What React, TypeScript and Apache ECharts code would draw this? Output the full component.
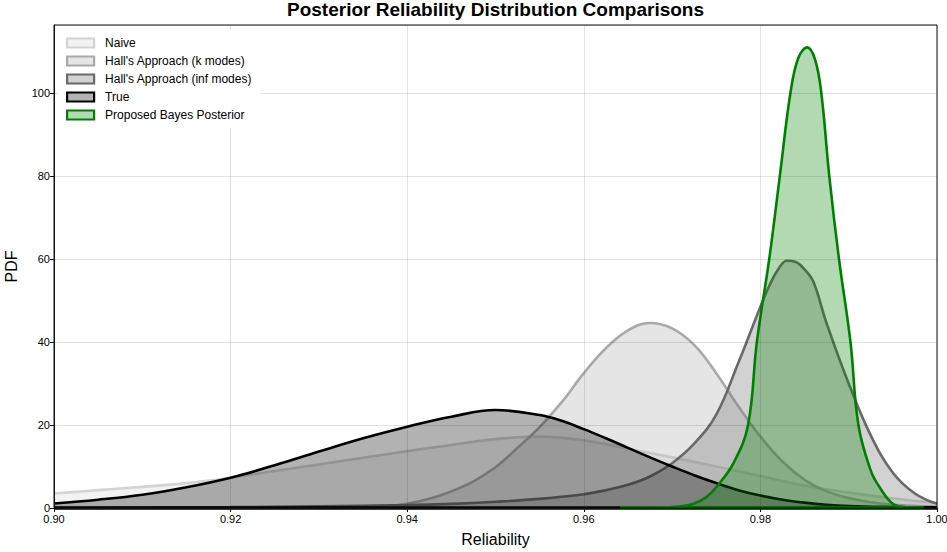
import React, { useEffect, useRef } from "react";
import * as echarts from "echarts";

const FONT = "'Liberation Sans', Arial, sans-serif";

const titleText = "Posterior Reliability Distribution Comparisons";
const seriesNames = [
  "Naive",
  "Hall's Approach (k modes)",
  "Hall's Approach (inf modes)",
  "True",
  "Proposed Bayes Posterior",
];
const seriesColors = ["#d3d3d3", "#a9a9a9", "#696969", "#000000", "#008000"];

const xTickMin = 0.9;
const xTickMax = 1.0;
const xTickStep = 0.02;
const yTickStep = 20;

// Naive
const naiveX = [0.9, 0.905, 0.91, 0.915, 0.92, 0.925, 0.93, 0.935, 0.94, 0.945, 0.95, 0.955, 0.96, 0.965, 0.97, 0.975, 0.98, 0.985, 0.99, 0.995, 1.0];
const naiveY = [3.5, 4.3, 5.1, 6.0, 7.3, 8.9, 10.5, 12.1, 13.7, 15.2, 16.6, 17.2, 16.3, 14.3, 12.2, 10.0, 7.7, 5.4, 3.7, 2.3, 1.2];

// Hall's Approach (k modes)
const hallKX = [0.9, 0.92, 0.93, 0.935, 0.9375, 0.94, 0.9425, 0.945, 0.9475, 0.95, 0.9525, 0.955, 0.9575, 0.96, 0.9625, 0.965, 0.9675, 0.97, 0.9725, 0.975, 0.9775, 0.98, 0.9825, 0.985, 0.9875, 0.99, 0.9925, 0.995, 1.0];
const hallKY = [0, 0, 0.03, 0.1, 0.4, 1.0, 2.2, 4.0, 6.4, 9.8, 14.5, 19.5, 25.5, 32.5, 38.5, 42.8, 44.6, 43.3, 39.3, 32.5, 24.5, 17.2, 11.2, 6.8, 4.0, 2.4, 1.4, 0.8, 0.3];

// Hall's Approach (inf modes)
const hallInfX = [0.9, 0.91, 0.92, 0.93, 0.94, 0.945, 0.95, 0.955, 0.96, 0.9625, 0.965, 0.9675, 0.97, 0.9725, 0.975, 0.9775, 0.98, 0.981, 0.982, 0.983, 0.984, 0.985, 0.986, 0.9875, 0.99, 0.9925, 0.995, 0.9975, 1.0];
const hallInfY = [0, 0.1, 0.2, 0.4, 0.7, 1.0, 1.5, 2.2, 3.3, 4.3, 5.6, 7.6, 10.8, 15.5, 22.5, 35.0, 48.5, 53.5, 57.5, 59.6, 59.3, 57.5, 54.5, 44.5, 30.0, 17.5, 8.5, 3.5, 1.0];

// True
const trueX = [0.9, 0.905, 0.91, 0.915, 0.92, 0.925, 0.93, 0.935, 0.94, 0.945, 0.95, 0.955, 0.9575, 0.96, 0.9625, 0.965, 0.9675, 0.97, 0.9725, 0.975, 0.9775, 0.98, 0.9825, 0.985, 0.9875, 0.99, 0.995, 1.0];
const trueY = [1.1, 2.0, 3.2, 5.0, 7.3, 10.3, 13.6, 16.8, 19.6, 22.0, 23.6, 22.4, 21.0, 19.0, 16.8, 14.5, 12.2, 10.0, 7.9, 6.0, 4.3, 3.0, 2.0, 1.3, 0.8, 0.5, 0.25, 0.1];

// Proposed Bayes Posterior
const bayesX = [0.9641, 0.968, 0.971, 0.9724, 0.9738, 0.975, 0.977, 0.9786, 0.9796, 0.981, 0.9822, 0.9834, 0.9843, 0.9853, 0.9862, 0.9869, 0.9878, 0.9889, 0.9902, 0.9911, 0.9925, 0.9935, 0.995, 0.9965, 0.9985];
const bayesY = [0, 0.05, 0.4, 1.0, 2.5, 5.0, 11.0, 20.0, 40.0, 60.0, 80.0, 100.0, 108.5, 111.0, 108.0, 100.0, 80.0, 60.0, 40.0, 20.0, 9.0, 5.0, 1.0, 0.2, 0];

// bottom edges of the filled regions
const trueBaseX = [0.9, 1.0];
const bayesBaseX = [0.9641, 0.9985];

const yMax = 116.4;

const zip = (xs: number[], ys: number[]) => xs.map((x, i) => [x, ys[i]]);

function hexA(hex: string, a: number) {
  const r = parseInt(hex.slice(1, 3), 16);
  const g = parseInt(hex.slice(3, 5), 16);
  const b = parseInt(hex.slice(5, 7), 16);
  return `rgba(${r},${g},${b},${a})`;
}

export default function App() {
  const ref = useRef<HTMLDivElement>(null);
  useEffect(() => {
    if (!ref.current) return;
    const chart = echarts.init(ref.current, undefined, { renderer: "svg" });
    const curveData = [
      zip(naiveX, naiveY),
      zip(hallKX, hallKY),
      zip(hallInfX, hallInfY),
      zip(trueX, trueY),
      zip(bayesX, bayesY),
    ];
    const series: any[] = [];
    curveData.forEach((d, i) => {
      const z = 2 + i;
      series.push({
        name: seriesNames[i],
        type: "line",
        data: d,
        smooth: 0.4,
        symbol: "none",
        lineStyle: { color: seriesColors[i], width: 2.6 },
        itemStyle: { color: seriesColors[i] },
        areaStyle: { color: seriesColors[i], opacity: 0.3 },
        z,
      });
      if (i === 3) {
        series.push({
          type: "line",
          data: trueBaseX.map((x) => [x, 0]),
          symbol: "none",
          clip: false,
          silent: true,
          lineStyle: { color: "#000", width: 3.5 },
          z,
        });
      }
      if (i === 4) {
        series.push({
          type: "line",
          data: bayesBaseX.map((x) => [x, 0]),
          symbol: "none",
          clip: false,
          silent: true,
          lineStyle: { color: "#008000", width: 3.5 },
          z,
        });
      }
    });

    chart.setOption({
      animation: false,
      backgroundColor: "#fff",
      textStyle: { fontFamily: FONT },
      grid: {
        left: 54,
        right: 10,
        top: 25,
        bottom: 44,
        containLabel: false,
        outerBoundsMode: "none",
        show: true,
        borderColor: "#111",
        borderWidth: 1,
        backgroundColor: "transparent",
        z: 9,
      },
      graphic: [
        {
          type: "text",
          x: 495.5,
          y: 0,
          z: 20,
          style: {
            text: titleText,
            fontFamily: FONT,
            fontSize: 19,
            fontWeight: "bold",
            fill: "#000",
            textAlign: "center",
            textVerticalAlign: "top",
          },
        },
      ],
      legend: {
        orient: "vertical",
        left: 58,
        top: 29,
        padding: [7, 8, 6, 8],
        backgroundColor: "#fff",
        itemWidth: 27,
        itemHeight: 9,
        itemGap: 4,
        icon: "rect",
        selectedMode: false,
        z: 20,
        textStyle: {
          fontSize: 12,
          color: "#000",
          fontFamily: FONT,
          lineHeight: 14,
          padding: [0, 0, 0, 6],
        },
        data: seriesNames.map((n, i) => ({
          name: n,
          icon: "rect",
          itemStyle: {
            color: hexA(seriesColors[i], 0.3),
            borderColor: seriesColors[i],
            borderWidth: 2.2,
          },
        })),
      },
      xAxis: {
        type: "value",
        min: xTickMin,
        max: xTickMax,
        interval: xTickStep,
        z: 10,
        name: "Reliability",
        nameLocation: "middle",
        nameGap: 23,
        nameTextStyle: { fontSize: 16, color: "#000", fontFamily: FONT },
        axisLine: { show: true, onZero: false, lineStyle: { color: "#111", width: 1 } },
        axisTick: { show: true, length: 4, lineStyle: { color: "#111" } },
        axisLabel: {
          fontSize: 11,
          color: "#000",
          margin: 5,
          fontFamily: FONT,
          formatter: (v: number) => v.toFixed(2),
        },
        splitLine: { show: true, lineStyle: { color: "rgba(0,0,0,0.11)", width: 1 } },
      },
      yAxis: {
        type: "value",
        min: 0,
        max: yMax,
        interval: yTickStep,
        z: 10,
        name: "PDF",
        nameLocation: "middle",
        nameGap: 35,
        nameTextStyle: { fontSize: 16, color: "#000", fontFamily: FONT },
        axisLine: { show: true, lineStyle: { color: "#111", width: 1 } },
        axisTick: { show: true, length: 4, lineStyle: { color: "#111" } },
        axisLabel: {
          fontSize: 11,
          color: "#000",
          margin: 4,
          fontFamily: FONT,
          showMaxLabel: false,
        },
        splitLine: { show: true, lineStyle: { color: "rgba(0,0,0,0.11)", width: 1 } },
      },
      series,
    });
    return () => chart.dispose();
  }, []);
  return (
    <div
      ref={ref}
      style={{ position: "fixed", left: 0, top: 0, width: 947, height: 552 }}
    />
  );
}
